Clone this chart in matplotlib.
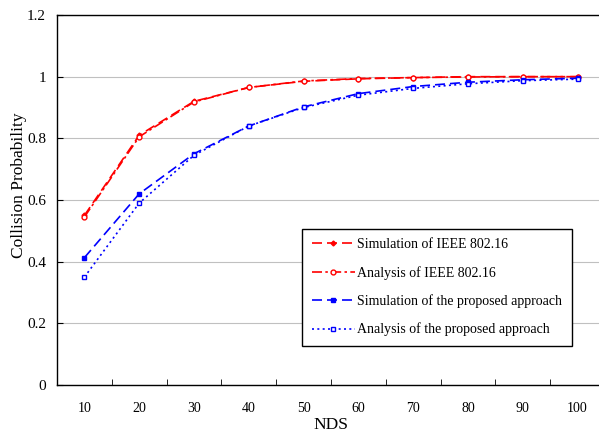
import numpy as np
import matplotlib
matplotlib.use("Agg")
import matplotlib.pyplot as plt

plt.rcParams['font.family'] = ['Liberation Serif', 'DejaVu Serif']

# data
nds = [10, 20, 30, 40, 50, 60, 70, 80, 90, 100]
sim_ieee = [0.55, 0.81, 0.92, 0.965, 0.985, 0.993, 0.997, 1.0, 1.0, 1.0]
ana_ieee = [0.545, 0.805, 0.918, 0.965, 0.986, 0.994, 0.997, 0.999, 1.0, 1.0]
sim_prop = [0.413, 0.62, 0.75, 0.84, 0.902, 0.945, 0.968, 0.982, 0.99, 0.995]
ana_prop = [0.35, 0.59, 0.745, 0.84, 0.90, 0.94, 0.962, 0.977, 0.987, 0.992]
yticks = [0, 0.2, 0.4, 0.6, 0.8, 1, 1.2]
ytick_labels = ['0', '0.2', '0.4', '0.6', '0.8', '1', '1.2']

fig = plt.figure(figsize=(5.99, 4.34), dpi=100)
ax = fig.add_axes([57 / 599, 49 / 434, 548 / 599, 370 / 434])

x = np.arange(len(nds))

ax.plot(x, sim_ieee, color='red', linestyle=(0, (6, 3)), lw=1.2,
        marker='D', ms=2.5, mfc='red', mec='red', label='Simulation of IEEE 802.16')
ax.plot(x, ana_ieee, color='red', linestyle=(0, (6, 2, 1.5, 2)), lw=1.2,
        marker='o', ms=3.5, mfc='white', mec='red', label='Analysis of IEEE 802.16')
ax.plot(x, sim_prop, color='blue', linestyle=(0, (6, 3)), lw=1.2,
        marker='s', ms=3.5, mfc='blue', mec='blue', label='Simulation of the proposed approach')
ax.plot(x, ana_prop, color='blue', linestyle=(0, (1.2, 2)), lw=1.2,
        marker='s', ms=3.5, mfc='white', mec='blue', label='Analysis of the proposed approach')

ax.set_xlim(-0.5, len(nds) - 0.5)
ax.set_ylim(0, 1.2)
ax.set_yticks(yticks)
ax.set_yticklabels(ytick_labels, fontsize=11)
ax.set_xticks(x)
ax.set_xticklabels([str(n) for n in nds], fontsize=10)
ax.set_xticks(np.arange(len(nds) - 1) + 0.5, minor=True)
ax.tick_params(axis='x', which='major', length=0, pad=12)
ax.tick_params(axis='x', which='minor', length=4, direction='in')
ax.tick_params(axis='y', length=4, direction='in', pad=8)

ax.grid(axis='y', color='#c0c0c0', lw=0.8)
ax.set_axisbelow(True)
for s in ax.spines.values():
    s.set_linewidth(1.0)
    s.set_color('black')

ax.set_xlabel('NDS', fontsize=12.5, labelpad=2)
ax.set_ylabel('Collision Probability', fontsize=12.5)
ax.yaxis.set_label_coords(-0.055, 0.54)

leg = ax.legend(loc='lower left', bbox_to_anchor=(0.447, 0.105), fontsize=10,
                fancybox=False, edgecolor='black', framealpha=1, borderaxespad=0,
                handlelength=3.1, labelspacing=1.05, borderpad=0.7, handletextpad=0.15)
leg.get_frame().set_linewidth(1.0)

fig.savefig('out.png', dpi=100)
